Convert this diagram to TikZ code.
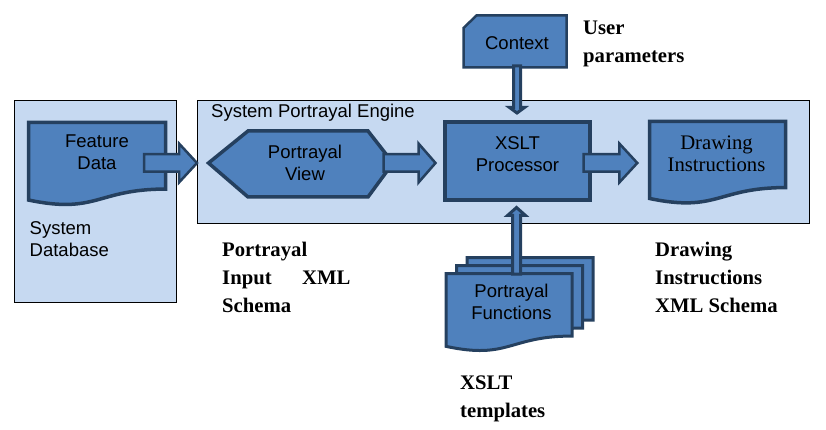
\documentclass[tikz,border=0pt]{standalone}
\usepackage{fontspec}
\setmainfont{Liberation Serif}
\setsansfont{Liberation Sans}
\usetikzlibrary{calc}
\definecolor{lightfill}{HTML}{C6D9F1}
\definecolor{shapefill}{HTML}{4F81BD}
\definecolor{shapeline}{HTML}{25405F}
\tikzset{
  panel/.style={draw=black, line width=0.8pt, fill=lightfill, inner sep=0pt},
  docshape/.style={draw=shapeline, line width=3.5pt, fill=shapefill, line join=miter},
  blockarrow/.style={draw=shapeline, line width=2.5pt, fill=shapefill, line join=miter, miter limit=10},
  sflabel/.style={font=\fontsize{18.5}{22}\selectfont\sffamily, inner sep=0pt, text=black},
  rmlabel/.style={font=\fontsize{20.7}{22}\selectfont\rmfamily, inner sep=0pt, text=black},
  bflabel/.style={font=\fontsize{20.7}{28}\selectfont\rmfamily\bfseries, inner sep=0pt, text=black},
}
% document shape: x y w h (y downwards)
\newcommand\mydoc[5][]{\draw[docshape,#1] (#2,#3) -- ({#2+#4},#3) -- ({#2+#4},{#3+0.802*#5})
  .. controls ({#2+#4/2},{#3+0.802*#5}) and ({#2+#4/2},{#3+1.1075*#5}) .. (#2,{#3+0.934*#5}) -- cycle;}
% horizontal block arrow: tail tip shaft-half head-half head-length
\newcommand\hblock[6][]{\draw[blockarrow,#1] ($(#2)+(0,-#4)$) -- ($(#3)+(-#6,-#4)$) -- ($(#3)+(-#6,-#5)$) -- (#3)
  -- ($(#3)+(-#6,#5)$) -- ($(#3)+(-#6,#4)$) -- ($(#2)+(0,#4)$) -- cycle;}
% vertical block arrow: tail tip shaft-half head-half signed head-length
\newcommand\vblock[6][]{\draw[blockarrow,#1] ($(#2)+(-#4,0)$) -- ($(#3)+(-#4,{-(#6)})$) -- ($(#3)+(-#5,{-(#6)})$) -- (#3)
  -- ($(#3)+(#5,{-(#6)})$) -- ($(#3)+(#4,{-(#6)})$) -- ($(#2)+(#4,0)$) -- cycle;}
\begin{document}
\begin{tikzpicture}[x=1pt,y=-1pt]
\useasboundingbox (0,0) rectangle (826,430);
% panels
\node[panel, anchor=north west, minimum width=162pt, minimum height=202pt] (db) at (14,100) {};
\node[panel, anchor=north west, minimum width=612pt, minimum height=123pt] (spe) at (197,100) {};
\node[sflabel, anchor=west] (spetext) at (211,112.3) {System Portrayal Engine};
\node[sflabel, align=left, anchor=west] (dbtext) at (29.5,239.4) {System\\Database};
% Feature Data document
\mydoc{28.5}{122.5}{137}{83}
\node[sflabel, align=center] (fdtext) at (97,152.4) {Feature\\Data};
% Drawing Instructions document
\mydoc{649.5}{121.5}{136}{82.4}
\node[rmlabel, align=center] (ditext) at (716.5,154) {Drawing\\Instructions};
% Portrayal View hexagon
\draw[docshape] (208.5,163) -- (248,131) -- (368,131) -- (393,163) -- (368,197) -- (248,197) -- cycle;
\node[sflabel, align=center] (pvtext) at (305,162.4) {Portrayal\\View};
% XSLT Processor
\node[docshape, minimum width=145pt, minimum height=78pt, inner sep=0pt] (xslt) at (517.5,161) {};
\node[sflabel, align=center] (xslttext) at (517.5,154.3) {XSLT\\Processor};
% Context
\draw[docshape, line width=2.5pt] (463.5,28) -- (476.5,15.5) -- (566.5,15.5) -- (566.5,67.5) -- (463.5,67.5) -- cycle;
\node[sflabel] (ctxtext) at (517,43.5) {Context};
% Portrayal Functions stack
\mydoc[line width=3pt]{467}{257.5}{126}{78}
\mydoc[line width=3pt]{456.5}{265.5}{126}{78}
\mydoc[line width=3pt]{446}{273.5}{126}{78}
\node[sflabel, align=center] (pftext) at (511.5,301.5) {Portrayal\\Functions};
% block arrows
\coordinate (a1t) at (144,163); \coordinate (a1p) at (197,163);
\coordinate (a2t) at (383.5,163); \coordinate (a2p) at (435.5,163);
\coordinate (a3t) at (583.5,163); \coordinate (a3p) at (637.3,163);
\coordinate (a4t) at (517,66); \coordinate (a4p) at (517,113);
\coordinate (a5t) at (516.5,274); \coordinate (a5p) at (516.5,207.5);
\hblock{a1t}{a1p}{8.75}{19.5}{18}
\hblock{a2t}{a2p}{8.75}{19.5}{17}
\hblock{a3t}{a3p}{8.75}{19.5}{18}
\vblock[line width=3pt]{a4t}{a4p}{3.5}{7.5}{5.5}
\vblock[line width=3pt]{a5t}{a5p}{4}{9}{-8}
% outside labels
\node[bflabel, align=left, anchor=west] (uptext) at (583,44.4) {User\\parameters};
\node[bflabel, align=left, anchor=west] (pixtext) at (222,277.9) {Portrayal\\Input\hspace{30.5pt}XML\\Schema};
\node[bflabel, align=left, anchor=west] (dixtext) at (655,277.9) {Drawing\\Instructions\\XML Schema};
\node[bflabel, align=left, anchor=west] (xttext) at (460,398.9) {XSLT\\templates};
\end{tikzpicture}
\end{document}
